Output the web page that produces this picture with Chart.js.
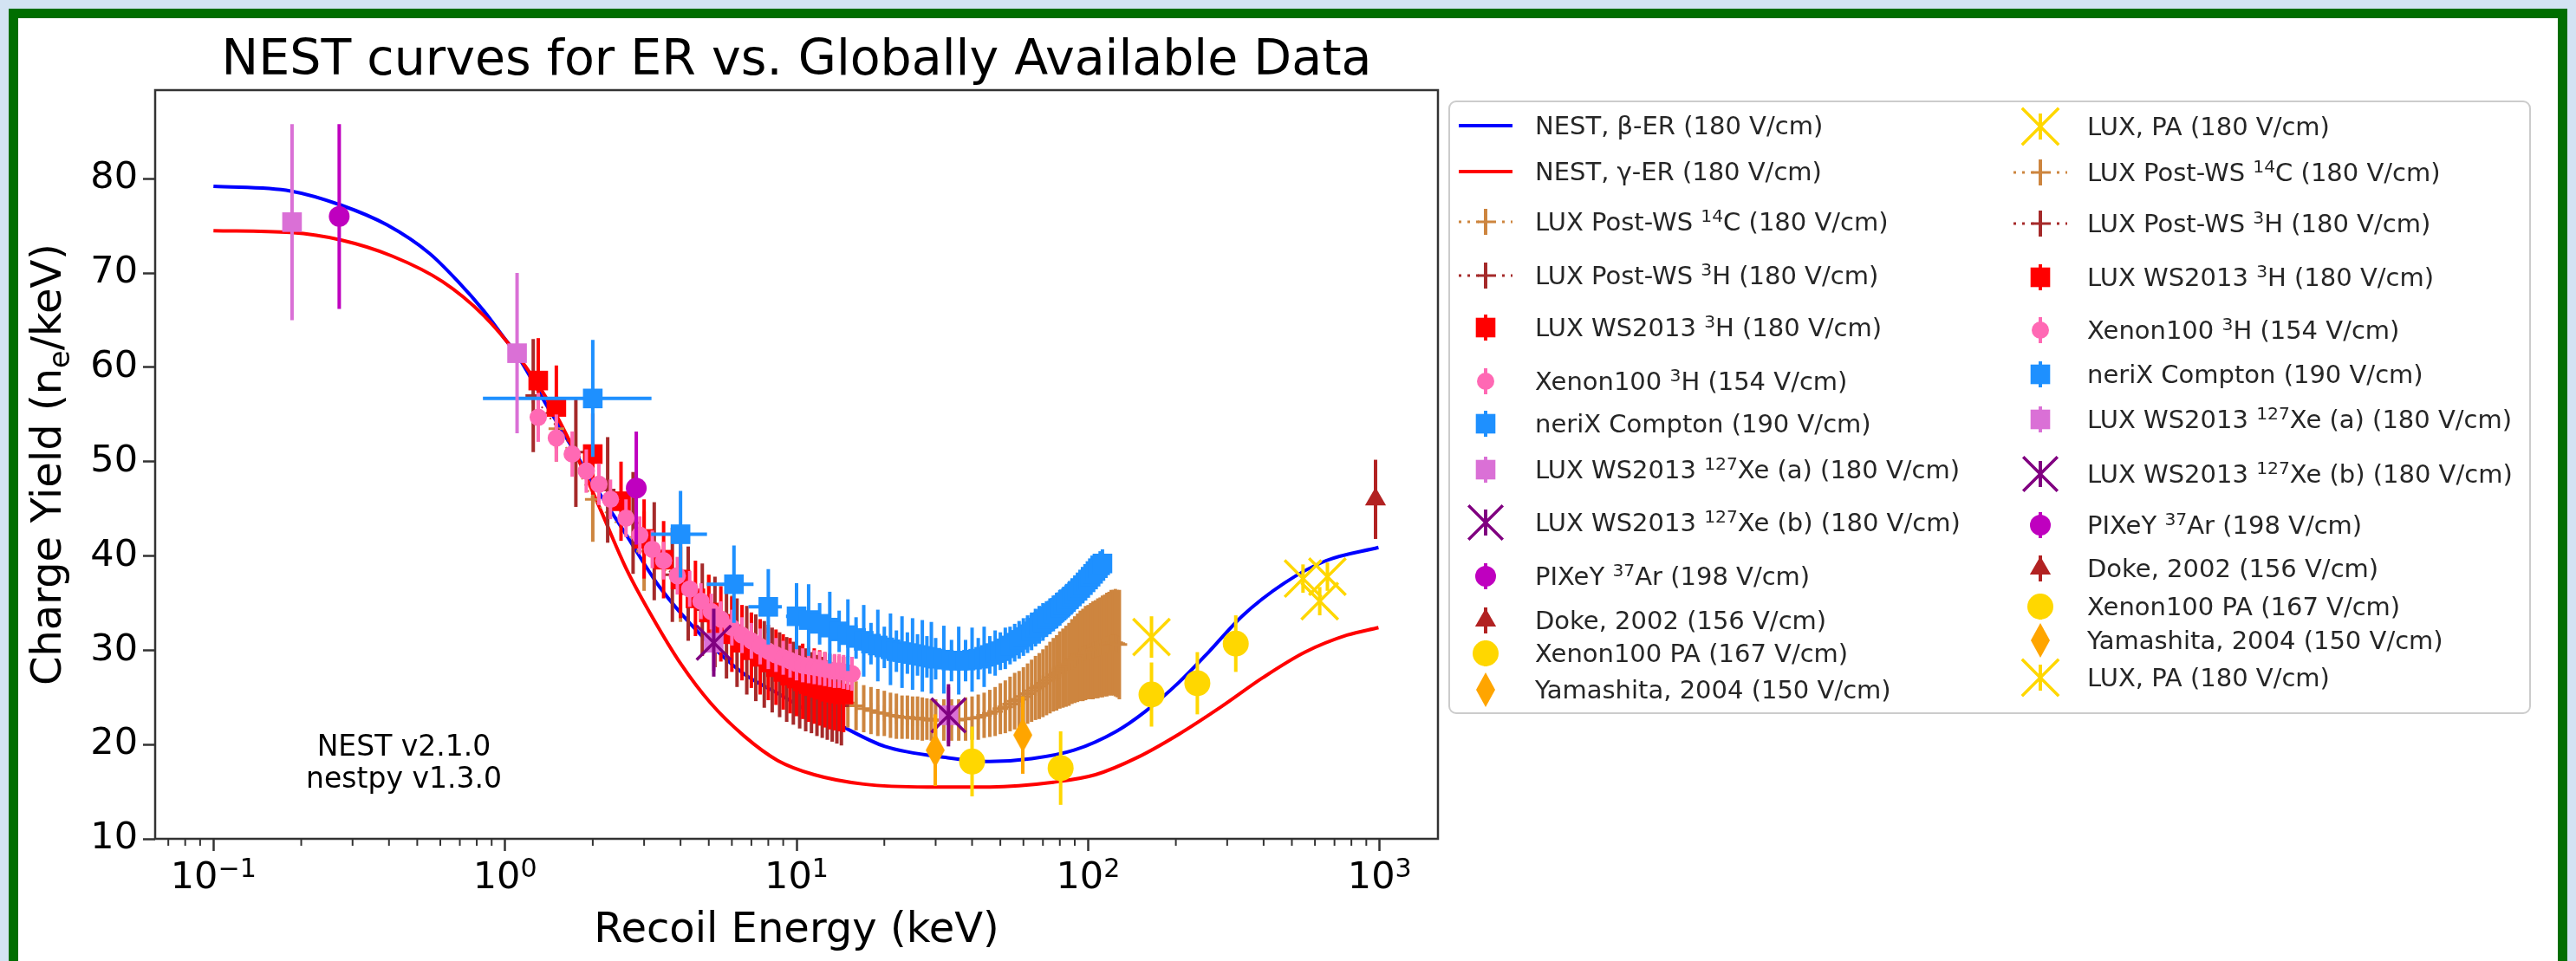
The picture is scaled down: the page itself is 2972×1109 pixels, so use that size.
<!DOCTYPE html>
<html>
<head>
<meta charset="utf-8">
<script src="https://cdn.jsdelivr.net/npm/chart.js@4.4.1/dist/chart.umd.min.js"></script>
<style>
  html, body { margin: 0; padding: 0; width: 2972px; height: 1109px; overflow: hidden; background: #d3e3f3; }
  #frame { position: absolute; left: 10px; top: 10px; width: 2930px; height: 1200px; border: 11px solid #006e00; background: #fff; }
  #c { position: absolute; left: 0; top: 0; }
</style>
</head>
<body>
<div id="frame"></div>
<canvas id="c" width="2972" height="1109"></canvas>
<script>
const FONT = 'DejaVu Sans';

// axis ticks
const xTickValues = [0.1, 1, 10, 100, 1000];
const xTickLabels = ['10^{−1}', '10^{0}', '10^{1}', '10^{2}', '10^{3}'];
const yTickValues = [10, 20, 30, 40, 50, 60, 70, 80];

// NEST model curves (180 V/cm)
const nestBetaE = [0.1, 0.184, 0.274, 0.394, 0.55, 0.69, 0.845, 1.0, 1.09, 1.4, 1.7, 2.0, 2.61, 3.41, 4.74, 6.6, 8.77, 11.5, 13.5, 20.1, 33, 46, 64, 89.5, 125, 157, 205, 259, 337, 470, 655, 991];
const nestBetaY = [79.2, 78.7, 77.2, 75.1, 72.1, 69.1, 66.0, 63.0, 61.5, 55.8, 51.5, 47.8, 42.2, 36.6, 31.5, 27.5, 25.3, 23.2, 22.3, 19.8, 18.6, 18.2, 18.5, 19.4, 21.4, 23.5, 26.6, 29.8, 33.6, 37.1, 39.5, 40.9];
const nestGammaE = [0.1, 0.184, 0.274, 0.41, 0.61, 0.845, 1.09, 1.44, 1.75, 2.14, 2.61, 3.19, 4.02, 5.07, 6.61, 8.62, 11.5, 17, 28, 46, 76, 106, 147, 205, 286, 398, 555, 773, 991];
const nestGammaY = [74.5, 74.3, 73.5, 71.8, 69.1, 65.5, 61.5, 55.9, 50.8, 44.7, 38.6, 33.6, 28.5, 24.4, 20.9, 18.3, 16.8, 15.8, 15.5, 15.5, 16.0, 16.8, 18.6, 21.1, 24.0, 27.1, 29.8, 31.6, 32.4];

// LUX Post-WS 14C
const c14E = [1.5, 2, 3, 4, 5, 6, 7, 8, 9, 10, 11, 12, 13, 14, 15, 16, 17, 18, 19, 20, 21, 22, 23, 24, 25, 26, 27, 28, 29, 30,
  32, 34, 36, 38, 40, 42, 44, 46, 48, 50, 52, 54, 56, 58, 60, 62, 64, 66, 68, 70, 72, 74, 76, 78, 80, 82, 84, 86, 88, 90,
  92, 94, 96, 98, 100, 102, 104, 106, 108, 110, 112, 114, 116, 118, 120, 122, 124, 126, 128];
const c14Y = [53.5, 46.0, 40.5, 37.0, 34.2, 32.2, 30.6, 29.2, 28.1, 27.2, 26.4, 25.8, 25.3, 24.8, 24.4, 24.1, 23.8, 23.6, 23.4, 23.3, 23.1, 23.0, 22.9, 22.9, 22.8, 22.8, 22.7, 22.7, 22.6, 22.6,
  22.6, 22.6, 22.6, 22.7, 22.8, 22.9, 23.1, 23.3, 23.5, 23.8, 24.0, 24.3, 24.6, 24.8, 25.1, 25.4, 25.7, 26.0, 26.2, 26.5, 26.8, 27.1, 27.4, 27.6, 27.9, 28.1, 28.3, 28.5, 28.8, 29.0,
  29.2, 29.4, 29.5, 29.7, 29.8, 29.9, 30.0, 30.1, 30.2, 30.3, 30.4, 30.5, 30.6, 30.7, 30.8, 30.8, 30.8, 30.7, 30.6];
const c14Err = [3.5, 4.5, 4.2, 4.0, 3.8, 3.6, 3.4, 3.2, 3.0, 3.0, 2.9, 2.8, 2.8, 2.7, 2.6, 2.6, 2.5, 2.5, 2.5, 2.4, 2.4, 2.4, 2.3, 2.3, 2.3, 2.3, 2.3, 2.2, 2.2, 2.2,
  2.2, 2.2, 2.2, 2.3, 2.3, 2.4, 2.4, 2.5, 2.6, 2.7, 2.8, 2.9, 3.0, 3.0, 3.1, 3.2, 3.3, 3.4, 3.5, 3.6, 3.7, 3.8, 3.9, 4.0, 4.1, 4.2, 4.3, 4.4, 4.5, 4.6,
  4.7, 4.8, 4.9, 5.0, 5.0, 5.1, 5.2, 5.2, 5.3, 5.3, 5.4, 5.4, 5.5, 5.5, 5.6, 5.6, 5.7, 5.7, 5.8];

// LUX Post-WS 3H
const h3PostE = [1.25, 1.75, 2.25, 2.75, 3.25, 3.75, 4.25, 4.75, 5.25, 5.75, 6.25, 6.75, 7.25, 7.75, 8.25, 8.75, 9.25, 9.75, 10.25, 10.75, 11.25, 11.75, 12.25, 12.75, 13.25, 13.75, 14.25];
const h3PostY = [57.0, 51.0, 47.0, 43.5, 40.5, 38.0, 36.0, 34.3, 33.0, 31.8, 30.8, 30.0, 29.2, 28.5, 27.9, 27.4, 26.9, 26.5, 26.1, 25.8, 25.5, 25.2, 25.0, 24.7, 24.5, 24.3, 24.1];
const h3PostErr = [6.0, 5.8, 5.6, 5.4, 5.2, 5.0, 5.0, 4.9, 4.8, 4.8, 4.7, 4.7, 4.6, 4.6, 4.5, 4.5, 4.5, 4.4, 4.4, 4.4, 4.3, 4.3, 4.3, 4.2, 4.2, 4.2, 4.2];

// LUX WS2013 3H
const h3LuxE = [1.3, 1.5, 2.0, 2.5, 3.0, 3.5, 4.0, 4.5, 5.0, 5.5, 6.0, 6.5, 7.0, 7.5, 8.0, 8.5, 9.0, 9.5, 10.0, 10.5, 11.0, 11.5, 12.0, 12.5, 13.0, 13.5, 14.0, 14.5];
const h3LuxY = [58.6, 55.8, 50.8, 45.8, 41.8, 39.6, 37.5, 35.5, 34.0, 32.8, 31.7, 30.8, 30.0, 29.3, 28.7, 28.2, 27.7, 27.3, 27.0, 26.7, 26.4, 26.2, 26.0, 25.8, 25.6, 25.5, 25.4, 25.3];
const h3LuxErr = [4.5, 4.4, 4.3, 4.2, 4.2, 4.1, 4.1, 4.0, 4.0, 4.0, 4.0, 4.0, 4.0, 4.0, 4.0, 4.0, 4.0, 4.0, 4.0, 4.0, 4.0, 4.0, 4.0, 4.0, 4.0, 4.0, 4.0, 4.0];

// Xenon100 3H
const h3XeE = [1.3, 1.5, 1.7, 1.9, 2.1, 2.3, 2.6, 2.9, 3.2, 3.5, 3.9, 4.3, 4.7, 5.1, 5.5, 6.0, 6.5, 7.0, 7.5, 8.0, 8.5, 9.0, 9.5, 10.0, 10.5, 11.0, 11.5, 12.0, 12.5, 13.0, 13.5, 14.0, 14.5, 15.0, 15.5];
const h3XeY = [54.7, 52.5, 50.8, 49.0, 47.6, 46.0, 44.0, 42.2, 40.7, 39.5, 37.9, 36.5, 35.2, 34.1, 33.3, 32.4, 31.6, 31.0, 30.4, 29.9, 29.5, 29.2, 28.9, 28.6, 28.4, 28.3, 28.2, 28.1, 28.0, 27.9, 27.8, 27.8, 27.7, 27.6, 27.5];
const h3XeErr = [2.6, 2.5, 2.4, 2.3, 2.2, 2.1, 2.0, 2.0, 2.0, 2.0, 2.0, 1.9, 1.9, 1.9, 1.9, 1.9, 1.9, 1.9, 1.9, 1.9, 1.8, 1.8, 1.8, 1.8, 1.8, 1.8, 1.8, 1.8, 1.8, 1.8, 1.8, 1.8, 1.8, 1.8, 1.8];

// neriX Compton
const nerixE = [2.0, 4.0, 6.1, 8.0, 10.0,
  11, 12, 13, 14, 15, 16, 17, 18, 19, 20, 21, 22, 23, 24, 25, 26, 27, 28, 29, 30,
  32, 34, 36, 38, 40, 42, 44, 46, 48, 50, 52, 54, 56, 58, 60, 62, 64, 66, 68, 70, 72, 74, 76, 78, 80,
  82, 84, 86, 88, 90, 92, 94, 96, 98, 100, 102, 104, 106, 108, 110, 112];
const nerixY = [56.7, 42.3, 37.0, 34.6, 33.6,
  33.2, 32.8, 32.4, 32.0, 31.6, 31.3, 31.0, 30.7, 30.5, 30.3, 30.1, 29.9, 29.8, 29.7, 29.6, 29.5, 29.4, 29.3, 29.2, 29.1,
  29.0, 28.9, 28.9, 28.9, 29.0, 29.1, 29.3, 29.5, 29.7, 29.9, 30.2, 30.5, 30.8, 31.1, 31.4, 31.7, 32.0, 32.4, 32.7, 33.0, 33.3, 33.6, 33.9, 34.2, 34.5,
  34.8, 35.1, 35.4, 35.7, 36.0, 36.3, 36.6, 36.9, 37.2, 37.5, 37.8, 38.1, 38.4, 38.7, 39.0, 39.2];
const nerixErr = [6.2, 4.6, 4.1, 4.0, 3.5,
  3.8, 2.2, 3.8, 2.2, 3.8, 2.2, 3.8, 2.2, 3.8, 2.2, 3.8, 2.2, 3.8, 2.2, 3.8, 2.2, 3.8, 2.2, 3.8, 2.2,
  3.6, 2.2, 3.6, 2.2, 3.4, 2.2, 3.2, 2.0, 2.4, 2.0, 2.2, 2.0, 2.0, 2.0, 2.0, 2.0, 2.0, 2.0, 2.0, 2.0, 1.9, 1.9, 1.9, 1.9, 1.9,
  1.8, 1.8, 1.8, 1.8, 1.7, 1.7, 1.7, 1.7, 1.6, 1.6, 1.6, 1.6, 1.5, 1.5, 1.5, 1.5];
const nerixXLo = [0.84, 3.17, 4.92, 6.84, 9.2];
const nerixXHi = [3.18, 4.93, 7.12, 8.9, 11.3];

// LUX WS2013 127Xe (a) and (b)
const xe127aE = [0.186, 1.1, 5.2, 33.2];
const xe127aY = [75.4, 61.5, 30.8, 23.1];
const xe127aErr = [10.4, 8.5, 3.0, 3.0];
const xe127bE = [5.2, 33.2];
const xe127bY = [30.8, 23.1];
const xe127bErr = [3.6, 3.3];

// PIXeY 37Ar
const pixeyE = [0.27, 2.82];
const pixeyY = [76.0, 47.2];
const pixeyErr = [9.8, 6.0];

// Doke 2002
const dokeE = [968];
const dokeY = [46.0];
const dokeErr = [4.2];

// Xenon100 PA
const xe100paE = [40, 80.5, 165, 237, 321];
const xe100paY = [18.2, 17.5, 25.3, 26.5, 30.7];
const xe100paErr = [3.7, 3.9, 3.4, 3.3, 3.0];

// Yamashita 2004
const yamaE = [29.9, 59.7];
const yamaY = [19.4, 21.0];
const yamaErr = [3.8, 4.1];

// LUX PA
const luxPaE = [165, 546, 623, 662];
const luxPaY = [31.4, 37.6, 35.2, 37.8];
const luxPaErr = [2.2, 1.5, 1.5, 1.5];

const labels = [
  'NEST, β-ER (180 V/cm)',
  'NEST, γ-ER (180 V/cm)',
  'LUX Post-WS ^{14}C (180 V/cm)',
  'LUX Post-WS ^{3}H (180 V/cm)',
  'LUX WS2013 ^{3}H (180 V/cm)',
  'Xenon100 ^{3}H (154 V/cm)',
  'neriX Compton (190 V/cm)',
  'LUX WS2013 ^{127}Xe (a) (180 V/cm)',
  'LUX WS2013 ^{127}Xe (b) (180 V/cm)',
  'PIXeY ^{37}Ar (198 V/cm)',
  'Doke, 2002 (156 V/cm)',
  'Xenon100 PA (167 V/cm)',
  'Yamashita, 2004 (150 V/cm)',
  'LUX, PA (180 V/cm)'
];

function thinDiamond(color) {
  const c = document.createElement('canvas');
  c.width = 22; c.height = 40;
  const g = c.getContext('2d');
  g.fillStyle = color;
  g.beginPath();
  g.moveTo(11, 0); g.lineTo(22, 20); g.lineTo(11, 40); g.lineTo(0, 20);
  g.closePath(); g.fill();
  return c;
}

function pts(xs, ys) {
  return xs.map((x, i) => ({x: x, y: ys[i]}));
}

function curve(i, xs, ys, color) {
  return {
    label: labels[i], data: pts(xs, ys), showLine: true, kind: 'line',
    borderColor: color, borderWidth: 4, pointRadius: 0, cubicInterpolationMode: 'monotone'
  };
}

function errSeries(i, xs, ys, errs, color, style, radius, extra) {
  return Object.assign({
    label: labels[i], data: pts(xs, ys), yErr: errs, errColor: color, kind: 'err',
    showLine: false, pointStyle: style, pointRadius: radius,
    pointBackgroundColor: color, pointBorderColor: color, pointBorderWidth: 0
  }, extra || {});
}

const datasets = [
  curve(0, nestBetaE, nestBetaY, '#0000ff'),
  curve(1, nestGammaE, nestGammaY, '#ff0000'),
  errSeries(2, c14E, c14Y, c14Err, '#cd853f', 'cross', 9,
    {pointBorderWidth: 3, showLine: true, borderColor: '#cd853f', borderWidth: 2, borderDash: [2, 6]}),
  errSeries(3, h3PostE, h3PostY, h3PostErr, '#a52a2a', 'cross', 9,
    {pointBorderWidth: 3, showLine: true, borderColor: '#a52a2a', borderWidth: 2, borderDash: [2, 6]}),
  errSeries(4, h3LuxE, h3LuxY, h3LuxErr, '#ff0000', 'rect', 16),
  errSeries(5, h3XeE, h3XeY, h3XeErr, '#ff69b4', 'circle', 10),
  errSeries(6, nerixE, nerixY, nerixErr, '#1e90ff', 'rect', 16, {xLo: nerixXLo, xHi: nerixXHi}),
  errSeries(7, xe127aE, xe127aY, xe127aErr, '#da70d6', 'rect', 16),
  errSeries(8, xe127bE, xe127bY, xe127bErr, '#800080', 'crossRot', 28, {pointBorderWidth: 3.5}),
  errSeries(9, pixeyE, pixeyY, pixeyErr, '#bf00bf', 'circle', 12),
  errSeries(10, dokeE, dokeY, dokeErr, '#b22222', 'triangle', 14),
  errSeries(11, xe100paE, xe100paY, xe100paErr, '#ffd700', 'circle', 15),
  errSeries(12, yamaE, yamaY, yamaErr, '#ffa500', thinDiamond('#ffa500'), 20),
  errSeries(13, luxPaE, luxPaY, luxPaErr, '#ffd700', 'crossRot', 30, {pointBorderWidth: 3.5})
];
// later series on top, as in the original plot
datasets.forEach((d, i) => { d.order = 100 - i; });

// legend layout: dataset indices per column
const legendCols = [
  {handleX: 1714, textX: 1771, rows: [145, 198, 256, 318, 378, 440, 489, 542, 603, 665, 716, 754, 796], items: [0, 1, 2, 3, 4, 5, 6, 7, 8, 9, 10, 11, 12]},
  {handleX: 2354, textX: 2408, rows: [146, 199, 258, 320, 381, 432, 484, 547, 606, 656, 700, 739, 782], items: [13, 2, 3, 4, 5, 6, 7, 8, 9, 10, 11, 12, 13]}
];

function drawRich(ctx, str, x, y, size, align, supRaise) {
  const raise = supRaise === undefined ? 0.36 : supRaise;
  const parts = str.split(/(\^\{[^}]*\}|_\{[^}]*\})/).filter(s => s);
  const segs = parts.map(p => {
    if (p.startsWith('^{')) return {t: p.slice(2, -1), s: size * 0.7, dy: -size * raise};
    if (p.startsWith('_{')) return {t: p.slice(2, -1), s: size * 0.7, dy: size * 0.2};
    return {t: p, s: size, dy: 0};
  });
  let w = 0;
  segs.forEach(g => { ctx.font = g.s + 'px "' + FONT + '"'; g.w = ctx.measureText(g.t).width; w += g.w; });
  let cx = align === 'center' ? x - w / 2 : x;
  ctx.textBaseline = 'alphabetic';
  ctx.textAlign = 'left';
  segs.forEach(g => { ctx.font = g.s + 'px "' + FONT + '"'; ctx.fillText(g.t, cx, y + g.dy); cx += g.w; });
}

const errorBars = {
  id: 'errorBars',
  beforeDatasetDraw(chart, args) {
    const ds = chart.data.datasets[args.index];
    if (!ds.yErr) return;
    const {ctx, chartArea: a} = chart;
    const xs = chart.scales.x, ys = chart.scales.y;
    ctx.save();
    ctx.beginPath();
    ctx.rect(a.left, a.top, a.right - a.left, a.bottom - a.top);
    ctx.clip();
    ctx.strokeStyle = ds.errColor;
    ctx.lineWidth = 4;
    ds.data.forEach((p, i) => {
      const px = xs.getPixelForValue(p.x), py = ys.getPixelForValue(p.y);
      ctx.beginPath();
      ctx.moveTo(px, ys.getPixelForValue(p.y - ds.yErr[i]));
      ctx.lineTo(px, ys.getPixelForValue(p.y + ds.yErr[i]));
      if (ds.xLo && ds.xLo[i] != null) {
        ctx.moveTo(xs.getPixelForValue(ds.xLo[i]), py);
        ctx.lineTo(xs.getPixelForValue(ds.xHi[i]), py);
      }
      ctx.stroke();
    });
    ctx.restore();
  }
};

const decorations = {
  id: 'decorations',
  afterDatasetsDraw(chart) {
    const {ctx, chartArea: a} = chart;
    ctx.save();
    ctx.strokeStyle = '#333';
    ctx.lineWidth = 2.5;
    ctx.strokeRect(a.left, a.top, a.right - a.left, a.bottom - a.top);
    ctx.restore();
  },
  afterDraw(chart) {
    const {ctx, chartArea: a} = chart;
    const xs = chart.scales.x;
    ctx.save();
    // minor log ticks
    ctx.strokeStyle = '#333';
    ctx.lineWidth = 2;
    for (let k = -2; k <= 3; k++) {
      for (let m = 2; m <= 9; m++) {
        const v = m * Math.pow(10, k);
        if (v < xs.min || v > xs.max) continue;
        const px = xs.getPixelForValue(v);
        ctx.beginPath(); ctx.moveTo(px, a.bottom); ctx.lineTo(px, a.bottom + 8); ctx.stroke();
      }
    }
    ctx.fillStyle = '#000';
    // x tick labels with superscript exponents, placed by the x scale
    xs.ticks.forEach(t => {
      const i = xTickValues.indexOf(t.value);
      if (i < 0) return;
      drawRich(ctx, xTickLabels[i], xs.getPixelForValue(t.value), 1025, 43, 'center', 0.3);
    });
    drawRich(ctx, 'NEST curves for ER vs. Globally Available Data', (a.left + a.right) / 2, 86, 57, 'center');
    drawRich(ctx, 'Recoil Energy (keV)', (a.left + a.right) / 2, 1087, 48, 'center');
    ctx.save();
    ctx.translate(70, (a.top + a.bottom) / 2);
    ctx.rotate(-Math.PI / 2);
    drawRich(ctx, 'Charge Yield (n_{e}/keV)', 0, 0, 48, 'center');
    ctx.restore();
    drawRich(ctx, 'NEST v2.1.0', 466, 872, 33, 'center');
    drawRich(ctx, 'nestpy v1.3.0', 466, 909, 33, 'center');

    // legend
    ctx.beginPath();
    ctx.roundRect(1672, 117, 2919 - 1672, 823 - 117, 8);
    ctx.fillStyle = 'rgba(255,255,255,0.8)';
    ctx.fill();
    ctx.strokeStyle = '#cccccc';
    ctx.lineWidth = 2;
    ctx.stroke();
    legendCols.forEach(col => {
      col.items.forEach((idx, r) => {
        const ds = chart.data.datasets[idx];
        const cx = col.handleX, cy = col.rows[r];
        ctx.save();
        if (ds.kind === 'line') {
          ctx.strokeStyle = ds.borderColor;
          ctx.lineWidth = 4;
          ctx.beginPath(); ctx.moveTo(cx - 31, cy); ctx.lineTo(cx + 31, cy); ctx.stroke();
        } else {
          if (ds.showLine) {
            ctx.strokeStyle = ds.borderColor;
            ctx.lineWidth = 3;
            ctx.setLineDash([3, 7]);
            ctx.beginPath(); ctx.moveTo(cx - 31, cy); ctx.lineTo(cx + 31, cy); ctx.stroke();
            ctx.setLineDash([]);
          }
          ctx.strokeStyle = ds.errColor;
          ctx.lineWidth = 4;
          ctx.beginPath(); ctx.moveTo(cx, cy - 15); ctx.lineTo(cx, cy + 15); ctx.stroke();
          ctx.fillStyle = ds.pointBackgroundColor;
          ctx.strokeStyle = ds.pointBorderColor;
          ctx.lineWidth = ds.pointBorderWidth;
          Chart.helpers.drawPoint(ctx, {pointStyle: ds.pointStyle, radius: ds.pointRadius, borderWidth: ds.pointBorderWidth, rotation: 0}, cx, cy);
        }
        ctx.restore();
        ctx.fillStyle = '#262626';
        drawRich(ctx, ds.label, col.textX, cy + 10, 29, 'left');
      });
    });
    ctx.restore();
  }
};

Chart.defaults.font.family = FONT;

new Chart(document.getElementById('c'), {
  type: 'scatter',
  data: {datasets: datasets},
  options: {
    responsive: false,
    animation: false,
    events: [],
    layout: {padding: {left: 0, top: 104, right: 2972 - 1659, bottom: 0}},
    plugins: {legend: {display: false}, title: {display: false}, tooltip: {enabled: false}},
    scales: {
      x: {
        type: 'logarithmic',
        min: Math.pow(10, -1.2),
        max: Math.pow(10, 3.2),
        afterFit: s => { s.height = 141; },
        afterBuildTicks: s => { s.ticks = xTickValues.map(v => ({value: v, major: true})); },
        border: {display: false},
        grid: {display: true, drawOnChartArea: false, drawTicks: true, tickLength: 14, tickWidth: 2.5, tickColor: '#333'},
        ticks: {display: false, autoSkip: false, maxRotation: 0}
      },
      y: {
        min: 10,
        max: 89.4,
        afterFit: s => { s.width = 179; },
        afterBuildTicks: s => { s.ticks = yTickValues.map(v => ({value: v})); },
        border: {display: false},
        grid: {display: true, drawOnChartArea: false, drawTicks: true, tickLength: 14, tickWidth: 2.5, tickColor: '#333'},
        ticks: {padding: 6, color: '#000', font: {family: FONT, size: 43}}
      }
    }
  },
  plugins: [errorBars, decorations]
});
</script>
</body>
</html>
